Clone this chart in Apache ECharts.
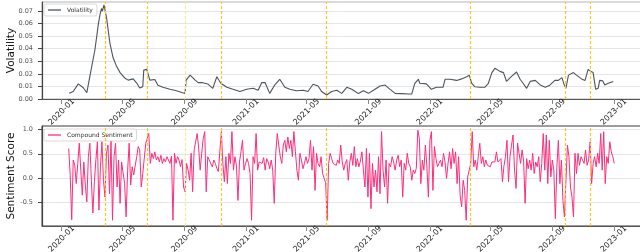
<!DOCTYPE html>
<html><head><meta charset="utf-8">
<script src="https://cdn.jsdelivr.net/npm/echarts@6/dist/echarts.min.js"></script>
<style>html,body{margin:0;padding:0;background:#fff}#c{width:640px;height:252px}</style>
</head><body><div id="c"></div>
<script>
const xTickLabels = ['2020-01','2020-05','2020-09','2021-01','2021-05','2021-09','2022-01','2022-05','2022-09','2023-01'];
const volTickValues = [0, 0.01, 0.02, 0.03, 0.04, 0.05, 0.06, 0.07];
const sentTickValues = [-0.5, 0, 0.5, 1.0];
const eventDates = ['2020-03-27','2020-06-18','2020-09-02','2020-11-13','2021-06-10','2022-03-23','2022-09-27','2022-11-15'];
const volDates = ['2020-01-16','2020-01-24','2020-02-03','2020-02-13','2020-02-20','2020-02-26','2020-03-07','2020-03-14','2020-03-17','2020-03-20','2020-03-22','2020-03-25','2020-03-30','2020-04-06','2020-04-12','2020-04-19','2020-04-26','2020-05-06','2020-05-12','2020-05-22','2020-05-29','2020-06-04','2020-06-10','2020-06-12','2020-06-18','2020-06-24','2020-07-04','2020-07-10','2020-07-20','2020-08-03','2020-08-16','2020-08-28','2020-09-02','2020-09-04','2020-09-12','2020-09-22','2020-09-28','2020-10-07','2020-10-17','2020-10-27','2020-11-04','2020-11-07','2020-11-12','2020-11-24','2020-12-06','2020-12-20','2021-01-02','2021-01-15','2021-01-25','2021-02-01','2021-02-08','2021-02-17','2021-02-27','2021-03-09','2021-03-19','2021-03-29','2021-04-11','2021-04-25','2021-05-04','2021-05-14','2021-05-24','2021-05-31','2021-06-10','2021-06-20','2021-06-30','2021-07-10','2021-07-20','2021-07-30','2021-08-12','2021-08-22','2021-09-01','2021-09-11','2021-09-24','2021-10-04','2021-10-14','2021-10-24','2021-11-06','2021-11-19','2021-11-26','2021-12-02','2021-12-09','2021-12-12','2021-12-25','2022-01-04','2022-01-14','2022-01-27','2022-01-31','2022-02-10','2022-02-23','2022-03-05','2022-03-15','2022-03-20','2022-03-25','2022-03-31','2022-04-10','2022-04-20','2022-04-27','2022-05-04','2022-05-10','2022-05-20','2022-05-27','2022-06-02','2022-06-12','2022-06-22','2022-06-29','2022-07-05','2022-07-12','2022-07-19','2022-07-29','2022-08-08','2022-08-18','2022-08-27','2022-09-06','2022-09-13','2022-09-20','2022-09-24','2022-09-28','2022-10-03','2022-10-13','2022-10-19','2022-10-29','2022-11-05','2022-11-11','2022-11-16','2022-11-21','2022-11-26','2022-12-01','2022-12-04','2022-12-10','2022-12-14','2022-12-21','2022-12-31'];
const volValues = [0.0045,0.006,0.012,0.009,0.005,0.018,0.039,0.060,0.067,0.072,0.070,0.075,0.065,0.044,0.033,0.026,0.021,0.0165,0.015,0.016,0.0127,0.0087,0.0098,0.023,0.0236,0.015,0.0155,0.011,0.0093,0.0077,0.0066,0.005,0.0045,0.015,0.019,0.015,0.013,0.013,0.012,0.0085,0.0177,0.019,0.0125,0.0093,0.0077,0.006,0.0077,0.0085,0.007,0.013,0.013,0.0045,0.0112,0.0157,0.0093,0.0077,0.0066,0.007,0.006,0.0117,0.0104,0.006,0.0032,0.006,0.007,0.0045,0.0093,0.0077,0.0043,0.0066,0.0045,0.007,0.0104,0.0111,0.0077,0.0045,0.0043,0.004,0.004,0.0125,0.0157,0.0125,0.012,0.0077,0.0093,0.0093,0.0157,0.0157,0.0148,0.016,0.0177,0.019,0.0125,0.0098,0.0093,0.0093,0.0125,0.021,0.0244,0.022,0.021,0.0141,0.018,0.0215,0.0157,0.0125,0.0085,0.014,0.0148,0.0112,0.0093,0.011,0.0148,0.0148,0.017,0.012,0.0085,0.019,0.021,0.019,0.016,0.0148,0.0236,0.022,0.021,0.0077,0.0085,0.0148,0.0145,0.0112,0.0125,0.014];
const sentStart = '2020-01-15';
const sentStepDays = 3;
const sentValues = [
0.61,0.05,-0.87,0.37,0.26,-0.12,0.30,0.72,0.16,-0.36,0.33,-0.15,-0.50,0.44,0.72,-0.05,-0.73,-0.08,0.38,0.75,-0.67,0.23,0.75,-0.05,-0.40,0.51,0.68,-0.33,0.78,-0.88,0.44,0.72,-0.19,0.37,-0.53,0.33,0.30,-0.12,-0.81,0.16,0.72,-0.15,0.23,0.06,0.09,0.44,0.65,0.58,-0.19,0.09,0.13,0.72,0.82,0.92,0.30,0.51,0.40,0.54,0.37,0.44,0.33,0.47,0.30,0.40,0.33,0.44,0.37,0.30,0.45,-0.88,0.51,0.30,0.44,0.37,0.23,0.38,-0.19,-0.29,0.30,0.16,-0.05,0.51,-0.29,0.58,0.61,0.92,0.62,
0.16,0.51,0.82,0.96,-0.29,0.44,0.37,0.33,0.23,0.37,0.30,0.20,0.13,0.10,0.96,0.30,-0.08,0.44,-0.12,0.51,0.30,0.96,0.16,0.44,0.25,-0.47,0.33,0.54,0.78,0.16,0.30,0.40,0.30,0.09,-0.88,0.44,0.30,0.92,0.16,0.33,0.37,0.30,0.42,0.16,0.40,0.33,0.19,0.37,0.16,-0.53,0.51,0.92,0.89,0.44,0.30,0.68,0.78,0.54,0.85,0.61,0.78,0.44,0.96,0.55,0.16,-0.05,0.51,0.37,0.19,0.30,0.44,0.30,0.40,0.78,0.16,0.65,-0.26,0.51,0.30,0.23,0.44,0.09,-0.01,-0.10,-0.88,0.30,0.51,0.40,0.30,0.33,0.26,0.37,0.30,0.68,0.33,0.16,0.30,0.38,-0.05,0.33,0.51,0.26,0.65,0.23,0.40,0.23,0.35,0.54,0.16,-0.19,0.61,-0.40,0.51,-0.64,0.30,-0.19,0.16,-0.29,0.44,-0.33,0.96,0.16,-0.19,0.37,-0.53,0.30,0.23,0.44,0.33,0.16,0.37,0.47,0.23,0.37,-0.40,0.30,0.16,0.51,0.30,0.23,-0.05,0.16,0.09,0.20,0.99,
0.82,-0.12,0.37,0.16,0.68,0.23,-0.40,0.78,0.96,-0.26,0.65,0.40,0.23,0.30,0.37,0.23,0.51,0.33,-0.01,0.30,0.54,0.19,0.61,0.30,0.54,-0.12,0.44,-0.36,-0.60,-0.05,-0.26,-0.88,0.02,0.06,0.30,0.96,0.23,0.37,0.16,0.44,0.72,0.30,0.44,0.23,0.37,0.26,0.30,0.23,0.33,0.37,0.33,0.54,0.33,0.30,0.40,-0.08,0.25,0.44,0.78,-0.08,0.44,0.68,0.89,0.16,-0.22,0.72,0.51,0.30,0.58,0.35,-0.53,0.40,0.19,0.37,0.16,0.51,0.09,0.33,0.23,0.44,-0.08,0.30,0.92,0.16,0.89,-0.12,0.78,0.02,0.37,0.16,-0.85,0.23,0.78,-0.12,0.37,-0.47,-0.81,-0.85,0.68,0.44,-0.19,-0.40,-0.81,0.51,0.09,0.51,0.26,0.44,0.37,0.30,0.58,0.26,0.37,0.75,-0.12,0.30,0.44,0.23,0.51,0.30,0.92,0.16,0.96,-0.12,0.44,0.30,0.75,0.54,0.44,0.30];

const P = s => +echarts.time.parse(s);
const xMin = P('2019-11-23');
const xMax = P('2023-02-26');
const xTickVals = xTickLabels.map(s => P(s + '-01'));
const t0 = P(sentStart);
const DAY = 86400000;

const chart = echarts.init(document.getElementById('c'), null, {renderer: 'canvas'});

function xAxisCfg(gi) {
  return {
    type: 'value', gridIndex: gi, min: xMin, max: xMax, scale: true,
    axisLine: {show: true, onZero: false, lineStyle: {color: '#555', width: 1.2}},
    axisTick: {show: true, customValues: xTickVals, length: 5, lineStyle: {color: '#888', width: 1}},
    axisLabel: {customValues: xTickVals, rotate: 45, align: 'center', verticalAlign: 'middle', margin: 13,
      fontSize: 8, color: '#222', formatter: v => xTickLabels[xTickVals.indexOf(v)] || ''},
    splitLine: {show: false}
  };
}
const markLineCfg = {
  symbol: ['none', 'none'], silent: true, label: {show: false},
  lineStyle: {type: [3, 2], color: '#ffc42a', width: 1.2},
  emphasis: {disabled: true},
  data: eventDates.map(d => d === '2020-09-02'
    ? {xAxis: P(d), lineStyle: {color: '#ffe49a', type: [3, 2], width: 1.2}}
    : {xAxis: P(d)})
};
const legendBase = {
  orient: 'vertical', backgroundColor: '#fff', borderColor: '#cfcfcf', borderWidth: 0.8, borderRadius: 2,
  padding: [3, 4, 3, 4], icon: 'rect', itemWidth: 13, itemHeight: 1.3, itemGap: 2,
  textStyle: {fontSize: 6, color: '#333', padding: [0, 0, 0, 1]}
};
function yName(text) {
  return {name: text, nameLocation: 'middle', nameGap: 25, nameRotate: 90, nameMoveOverlap: false,
    nameTextStyle: {fontSize: 10.5, color: '#111'}};
}

chart.setOption({
  animation: false,
  textStyle: {fontFamily: 'DejaVu Sans'},
  grid: [
    {left: 42, top: 2, width: 600, height: 97, show: true, borderColor: '#b5b5b5', borderWidth: 1, backgroundColor: 'transparent', outerBoundsMode: 'none'},
    {left: 42, top: 126, width: 600, height: 100, show: true, borderColor: '#3a3a3a', borderWidth: 1, backgroundColor: 'transparent', outerBoundsMode: 'none'}
  ],
  legend: [
    Object.assign({}, legendBase, {data: ['Volatility'], left: 44, top: 4}),
    Object.assign({}, legendBase, {data: ['Compound Sentiment'], left: 44, top: 129})
  ],
  xAxis: [xAxisCfg(0), xAxisCfg(1)],
  yAxis: [
    Object.assign({type: 'value', gridIndex: 0, min: 0, max: 0.0772,
      axisLine: {show: true, lineStyle: {color: '#444', width: 1.2}},
      axisTick: {show: true, customValues: volTickValues, length: 4, lineStyle: {color: '#444'}},
      axisLabel: {customValues: volTickValues, fontSize: 6.5, color: '#555', margin: 9, formatter: v => v.toFixed(2)},
      splitLine: {show: true, lineStyle: {color: '#e6e6e6', width: 1}}}, yName('Volatility')),
    Object.assign({type: 'value', gridIndex: 1, min: -1.0, max: 1.077,
      axisLine: {show: true, lineStyle: {color: '#444', width: 1.2}},
      axisTick: {show: true, customValues: sentTickValues, length: 4, lineStyle: {color: '#444'}},
      axisLabel: {customValues: sentTickValues, fontSize: 6.5, color: '#555', margin: 9, formatter: v => v.toFixed(1)},
      splitLine: {show: true, lineStyle: {color: '#e6e6e6', width: 1}}}, yName('Sentiment Score'))
  ],
  series: [
    {type: 'line', name: 'Volatility', xAxisIndex: 0, yAxisIndex: 0, symbol: 'none',
      data: volDates.map((d, i) => [P(d), volValues[i]]),
      lineStyle: {color: '#4b555e', width: 1.1}, itemStyle: {color: '#4b555e'},
      markLine: markLineCfg},
    {type: 'line', name: 'Compound Sentiment', xAxisIndex: 1, yAxisIndex: 1, symbol: 'none',
      data: sentValues.map((v, i) => [t0 + i * sentStepDays * DAY, v]),
      lineStyle: {color: '#ff2d7a', width: 1}, itemStyle: {color: '#ff2d7a'},
      markLine: markLineCfg}
  ]
});
</script></body></html>
